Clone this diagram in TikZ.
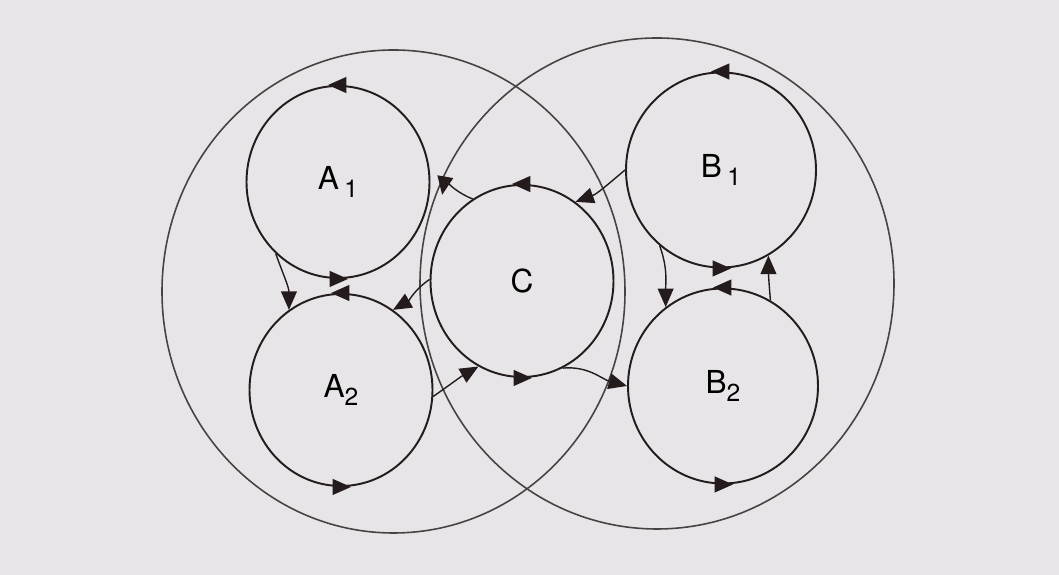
\documentclass[tikz,border=0pt]{standalone}
\usepackage{fontspec}
\setmainfont{TeX Gyre Heros}
\usepackage{xcolor}
\definecolor{pageGray}{RGB}{231,229,231}
\definecolor{inkDark}{RGB}{36,28,28}
\definecolor{inkSoft}{RGB}{72,66,66}
\usetikzlibrary{arrows.meta,shapes.geometric}
\newcommand\lowidx[1]{\raisebox{-0.5ex}{\fontsize{14}{14}\selectfont#1}}

\begin{document}
\begin{tikzpicture}[>={Triangle[length=10.5pt,width=9pt]},
  loop/.style={draw=inkDark, line width=1.1pt, ellipse, inner sep=0pt,
    minimum width=3.66cm, minimum height=3.84cm, font=\fontsize{18}{20}\selectfont},
  flow/.style={->, draw=inkDark, line width=0.8pt},
  turn/.style={->, draw=inkDark, line width=1.1pt}]
  % ---- page ----
  \fill[pageGray] (0,0) rectangle (21.18,11.5);
  \useasboundingbox (0,0) rectangle (21.18,11.5);
  % ---- the two overlapping systems ----
  \draw[inkSoft, line width=0.9pt] (7.87,5.67) ellipse [x radius=4.63, y radius=4.83];
  \draw[inkSoft, line width=0.9pt] (13.14,5.83) ellipse [x radius=4.74, y radius=4.91];
  % ---- subsystems ----
  \node[loop] (A1) at (6.76,7.86) {A\,\lowidx{1}};
  \node[loop] (A2) at (6.82,3.70) {A\lowidx{2}};
  \node[loop] (C)  at (10.44,5.88) {C};
  \node[loop, minimum width=3.8cm, minimum height=3.9cm] (B1) at (14.42,8.10) {B\,\lowidx{1}};
  \node[loop, minimum width=3.8cm, minimum height=3.9cm] (B2) at (14.46,3.78) {B\lowidx{2}};
  % each one turns anticlockwise
  \foreach \n in {A1,A2,C,B1,B2} {
    \draw[turn] ([xshift=1mm]\n.north) -- ([xshift=-2mm]\n.north);
    \draw[turn] ([xshift=-1mm]\n.south) -- ([xshift=2mm]\n.south);
  }
  % ---- exchanges ----
  \draw[flow] (A1.229) to[out=-70, in=90] (A2.123);
  \draw[flow] (B1.231) to[out=-70, in=90] (B2.126);
  \draw[flow] (B2.61) to[out=95, in=-90] (B1.-61);
  \draw[flow] (C.121) to[out=160, in=80] ([xshift=0.25cm]A1.-8);
  \draw[flow] (B1.180) to[out=220, in=20] (C.56);
  \draw[flow] (C.179) to[out=215, in=30] (A2.57);
  \draw[flow] (A2.-4) to[out=35, in=210] (C.243);
  \draw[flow] (C.-65) to[out=5, in=165] (B2.180);
\end{tikzpicture}
\end{document}
